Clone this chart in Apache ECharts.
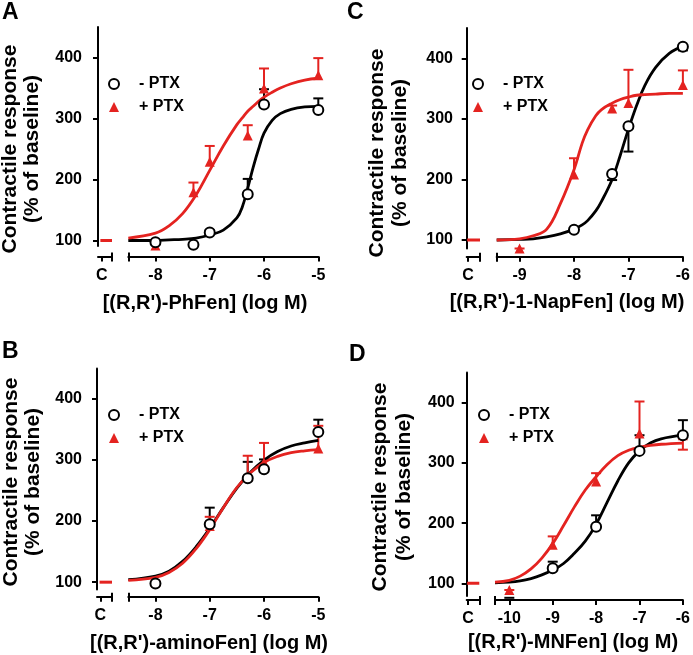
<!DOCTYPE html>
<html><head><meta charset="utf-8">
<script src="https://cdn.jsdelivr.net/npm/echarts@6.0.0/dist/echarts.min.js"></script>
<style>html,body{margin:0;padding:0;background:#fff}#c{width:693px;height:655px}</style>
</head><body><div id="c"></div>
<script>
// ---------- DATA ----------
const legendNames = ['- PTX', '+ PTX'];
const yTickValues = [100, 200, 300, 400];
const controlY = [100, 100];

// Panel A : (R,R')-PhFen
const aPointX = [-8, -7.3, -7, -6.3, -6, -5];
const aBlackY = [97, 93, 113, 176, 323, 314];
const aBlackErr = [97, 93, 117, 201, 348, 333];
const aRedY = [92, 179, 229, 272, 349, 371];
const aRedErr = [96, 195, 255, 289, 382, 399];
const aCurveX = [-8.5, -8, -7.75, -7.5, -7.25, -7, -6.75, -6.5, -6.4, -6.3, -6.2, -6.1, -6, -5.85, -5.7, -5.5, -5.25, -5];
const aBlackCurve = [100, 100, 101, 102, 104, 109, 117, 137, 155, 186, 220, 250, 276, 297, 308, 315, 319, 320];
const aRedCurve = [104, 112, 124, 144, 175, 215, 255, 290, 301, 312, 320, 328, 335, 343, 350, 357, 363, 366];
const aXTicks = [-8, -7, -6, -5];

// Panel B : (R,R')-aminoFen
const bPointX = [-8, -7, -6.3, -6, -5];
const bBlackY = [98, 195, 270, 285, 346];
const bBlackErr = [98, 222, 297, 301, 366];
const bRedY = [101, 192, 273, 296, 319];
const bRedErr = [101, 207, 307, 328, 356];
const bCurveX = [-8.5, -8, -7.75, -7.5, -7.25, -7, -6.75, -6.5, -6.25, -6, -5.75, -5.5, -5.25, -5];
const bBlackCurve = [104, 110, 118, 134, 158, 188, 222, 254, 280, 300, 314, 323, 328, 332];
const bRedCurve = [103, 108, 116, 131, 155, 186, 222, 255, 279, 296, 306, 312, 315, 317];
const bXTicks = [-8, -7, -6, -5];

// Panel C : (R,R')-1-NapFen
const cBlackX = [-8, -7.3, -7, -6];
const cBlackY = [117, 209, 288, 419];
const cBlackErr = [113, 199, 246, 413];
const cRedX = [-9, -8, -7.3, -7, -6];
const cRedY = [86, 208, 317, 326, 356];
const cRedErr = [86, 235, 322, 381, 380];
const cCurveX = [-9.42, -9, -8.75, -8.5, -8.25, -8, -7.85, -7.75, -7.6, -7.5, -7.3, -7.15, -7, -6.85, -6.7, -6.5, -6.25, -6];
const cBlackCurve = [100, 101, 102, 105, 110, 118, 125, 132, 148, 163, 200, 240, 283, 322, 355, 385, 408, 420];
const cRedCurve = [100, 102, 107, 118, 160, 216, 260, 282, 305, 315, 326, 332, 336, 339, 340, 341, 342, 342];
const cXTicks = [-9, -8, -7, -6];

// Panel D : (R,R')-MNFen
const dPointX = [-10, -9, -8, -7, -6];
const dBlackY = [76, 125, 194, 320, 346];
const dBlackErr = [76, 136, 213, 346, 371];
const dRedY = [89, 164, 269, 349, 346];
const dRedErr = [89, 178, 283, 402, 322];
const dCurveX = [-10.33, -10, -9.75, -9.5, -9.25, -9, -8.75, -8.5, -8.25, -8, -7.75, -7.5, -7.25, -7, -6.75, -6.5, -6];
const dBlackCurve = [101, 102, 104, 108, 114, 122, 133, 150, 170, 198, 234, 270, 300, 320, 333, 340, 346];
const dRedCurve = [102, 105, 112, 124, 142, 166, 196, 227, 255, 277, 297, 312, 321, 326, 329, 331, 333];
const dXTicks = [-10, -9, -8, -7, -6];

// ---------- LAYOUT ----------
const RED = '#e42320';
const FONT = 'Liberation Sans, Arial, Helvetica, sans-serif';
const panels = [
  { letter: 'A', title: "[(R,R')-PhFen] (log M)",
    pbx: aPointX, pby: aBlackY, pbe: aBlackErr, prx: aPointX, pry: aRedY, pre: aRedErr,
    cx: aCurveX, cb: aBlackCurve, cr: aRedCurve, ticks: aXTicks,
    top: 27, bottom: 246, yMin: 91, cLeft: 98, cW: 14, mLeft: 128.3, mW: 190, xMin: -8.5, xMax: -5,
    yOff: 9, xOff: 10.5, cTick: 0.27, ctrlStart: 0.17,
    letterPos: [2, 13], titlePos: [205, 303], yTitle: [10, 32, 149], legend: [108, 76] },
  { letter: 'C', title: "[(R,R')-1-NapFen] (log M)",
    pbx: cBlackX, pby: cBlackY, pbe: cBlackErr, prx: cRedX, pry: cRedY, pre: cRedErr,
    cx: cCurveX, cb: cBlackCurve, cr: cRedCurve, ticks: cXTicks,
    top: 28, bottom: 248.5, yMin: 86, cLeft: 466.7, cW: 13.3, mLeft: 496.7, mW: 190, xMin: -9.42, xMax: -6,
    yOff: 6.7, xOff: 8.2, cTick: 0.1, ctrlStart: 0.03,
    letterPos: [347, 13], titlePos: [567, 302], yTitle: [377, 400, 153], legend: [472, 76] },
  { letter: 'B', title: "[(R,R')-aminoFen] (log M)",
    pbx: bPointX, pby: bBlackY, pbe: bBlackErr, prx: bPointX, pry: bRedY, pre: bRedErr,
    cx: bCurveX, cb: bBlackCurve, cr: bRedCurve, ticks: bXTicks,
    top: 368.4, bottom: 589.5, yMin: 88, cLeft: 97, cW: 15, mLeft: 128.3, mW: 190, xMin: -8.5, xMax: -5,
    yOff: 8, xOff: 7.2, cTick: 0.22, ctrlStart: 0.17,
    letterPos: [2, 352], titlePos: [209, 643], yTitle: [11, 33, 482], legend: [108, 407] },
  { letter: 'D', title: "[(R,R')-MNFen] (log M)",
    pbx: dPointX, pby: dBlackY, pbe: dBlackErr, prx: dPointX, pry: dRedY, pre: dRedErr,
    cx: dCurveX, cb: dBlackCurve, cr: dRedCurve, ticks: dXTicks,
    top: 372.6, bottom: 596, yMin: 79, cLeft: 466.7, cW: 12.6, mLeft: 495, mW: 190, xMin: -10.33, xMax: -6,
    yOff: 5, xOff: 4, cTick: 0.1, ctrlStart: 0.03,
    letterPos: [349, 355], titlePos: [573, 642], yTitle: [380, 404, 487], legend: [478, 407] }
];

const zip2 = (a, b) => a.map((v, i) => [v, b[i]]);
const zip3 = (a, b, c) => a.map((v, i) => [v, b[i], c[i]]);
const axisLineStyle = { color: '#000', width: 2 };
const labelFont = { fontFamily: FONT, fontWeight: 'bold', fontSize: 16, color: '#000' };

function errRender(color) {
  return function (params, api) {
    const x = api.value(0), y = api.value(1), e = api.value(2);
    const p0 = api.coord([x, y]), p1 = api.coord([x, e]);
    const st = { stroke: color, lineWidth: 2 };
    return { type: 'group', children: [
      { type: 'line', shape: { x1: p0[0], y1: p0[1], x2: p1[0], y2: p1[1] }, style: st },
      { type: 'line', shape: { x1: p1[0] - 5, y1: p1[1], x2: p1[0] + 5, y2: p1[1] }, style: st }
    ] };
  };
}

const grid = [], xAxis = [], yAxis = [], series = [], legend = [], graphic = [];
panels.forEach((p, i) => {
  const h = p.bottom - p.top;
  grid.push({ left: p.cLeft, top: p.top, width: p.cW, height: h });
  grid.push({ left: p.mLeft, top: p.top, width: p.mW, height: h });
  const gC = 2 * i, gM = 2 * i + 1;
  xAxis.push({ type: 'value', gridIndex: gC, min: 0, max: 1, position: 'bottom', offset: p.xOff,
    axisLine: { show: true, lineStyle: axisLineStyle },
    axisTick: { show: true, length: 5, lineStyle: axisLineStyle, customValues: [p.cTick, 1] },
    axisLabel: Object.assign({ show: true, margin: 11, customValues: [p.cTick], formatter: () => 'C' }, labelFont),
    splitLine: { show: false } });
  xAxis.push({ type: 'value', gridIndex: gC, min: 0, max: 1, position: 'bottom', offset: p.xOff,
    axisLine: { show: false },
    axisTick: { show: true, inside: true, length: 4, lineStyle: axisLineStyle, customValues: [1] },
    axisLabel: { show: false }, splitLine: { show: false } });
  xAxis.push({ type: 'value', gridIndex: gM, min: p.xMin, max: p.xMax, position: 'bottom', offset: p.xOff,
    axisLine: { show: true, lineStyle: axisLineStyle },
    axisTick: { show: true, length: 5, lineStyle: axisLineStyle, customValues: [p.xMin].concat(p.ticks) },
    axisLabel: Object.assign({ show: true, margin: 11, customValues: p.ticks, formatter: v => String(v) }, labelFont),
    splitLine: { show: false } });
  xAxis.push({ type: 'value', gridIndex: gM, min: p.xMin, max: p.xMax, position: 'bottom', offset: p.xOff,
    axisLine: { show: false },
    axisTick: { show: true, inside: true, length: 4, lineStyle: axisLineStyle, customValues: [p.xMin] },
    axisLabel: { show: false }, splitLine: { show: false } });
  yAxis.push({ type: 'value', gridIndex: gC, min: p.yMin, max: 450, position: 'left', offset: p.yOff,
    axisLine: { show: true, lineStyle: axisLineStyle },
    axisTick: { show: true, length: 5, lineStyle: axisLineStyle, customValues: yTickValues },
    axisLabel: Object.assign({ show: true, margin: 7, customValues: yTickValues }, labelFont),
    splitLine: { show: false } });
  yAxis.push({ type: 'value', gridIndex: gM, min: p.yMin, max: 450, show: false, splitLine: { show: false } });

  const xC = 4 * i, xM = 4 * i + 2, yC = 2 * i, yM = 2 * i + 1;
  series.push({ type: 'line', name: 'ctrl', xAxisIndex: xC, yAxisIndex: yC, data: zip2([p.ctrlStart, 1], controlY),
    symbol: 'none', lineStyle: { color: RED, width: 3 }, z: 3, silent: true });
  series.push({ type: 'custom', name: 'errB', xAxisIndex: xM, yAxisIndex: yM, data: zip3(p.pbx, p.pby, p.pbe),
    renderItem: errRender('#000'), z: 2, silent: true });
  series.push({ type: 'custom', name: 'errR', xAxisIndex: xM, yAxisIndex: yM, data: zip3(p.prx, p.pry, p.pre),
    renderItem: errRender(RED), z: 2, silent: true });
  series.push({ type: 'line', name: 'fitB', xAxisIndex: xM, yAxisIndex: yM, data: zip2(p.cx, p.cb), smooth: 0.4,
    symbol: 'none', lineStyle: { color: '#000', width: 2.8 }, z: 3, silent: true });
  series.push({ type: 'line', name: 'fitR', xAxisIndex: xM, yAxisIndex: yM, data: zip2(p.cx, p.cr), smooth: 0.4,
    symbol: 'none', lineStyle: { color: RED, width: 2.8 }, z: 3, silent: true });
  series.push({ type: 'scatter', name: legendNames[1], xAxisIndex: xM, yAxisIndex: yM, data: zip2(p.prx, p.pry),
    symbol: 'triangle', symbolSize: 10, itemStyle: { color: RED, opacity: 1 }, z: 4 });
  series.push({ type: 'scatter', name: legendNames[0], xAxisIndex: xM, yAxisIndex: yM, data: zip2(p.pbx, p.pby),
    symbol: 'circle', symbolSize: 10, itemStyle: { color: '#fff', borderColor: '#000', borderWidth: 2, opacity: 1 }, z: 5 });

  legend.push({ orient: 'vertical', left: p.legend[0], top: p.legend[1], padding: 0, itemWidth: 10, itemHeight: 10, itemGap: 7,
    data: [{ name: legendNames[0], icon: 'circle' }, { name: legendNames[1], icon: 'triangle' }],
    itemStyle: { opacity: 1 },
    textStyle: { fontFamily: FONT, fontWeight: 'bold', fontSize: 16, color: '#000', lineHeight: 16, padding: [0, 0, 0, 15] },
    selectedMode: false });

  graphic.push({ type: 'text', x: p.letterPos[0], y: p.letterPos[1],
    style: { text: p.letter, font: 'bold 23px ' + FONT, fill: '#000', textAlign: 'left', textVerticalAlign: 'middle' } });
  graphic.push({ type: 'text', x: p.titlePos[0], y: p.titlePos[1],
    style: { text: p.title, font: 'bold 20px ' + FONT, fill: '#000', textAlign: 'center', textVerticalAlign: 'middle' } });
  graphic.push({ type: 'text', x: p.yTitle[0], y: p.yTitle[2], rotation: Math.PI / 2,
    style: { text: 'Contractile response', font: 'bold 21px ' + FONT, fill: '#000', textAlign: 'center', textVerticalAlign: 'middle' } });
  graphic.push({ type: 'text', x: p.yTitle[1], y: p.yTitle[2], rotation: Math.PI / 2,
    style: { text: '(% of baseline)', font: 'bold 21px ' + FONT, fill: '#000', textAlign: 'center', textVerticalAlign: 'middle' } });
});

const chart = echarts.init(document.getElementById('c'), null, { renderer: 'canvas' });
chart.setOption({ animation: false, backgroundColor: '#fff', grid, xAxis, yAxis, series, legend, graphic });
</script>
</body></html>
